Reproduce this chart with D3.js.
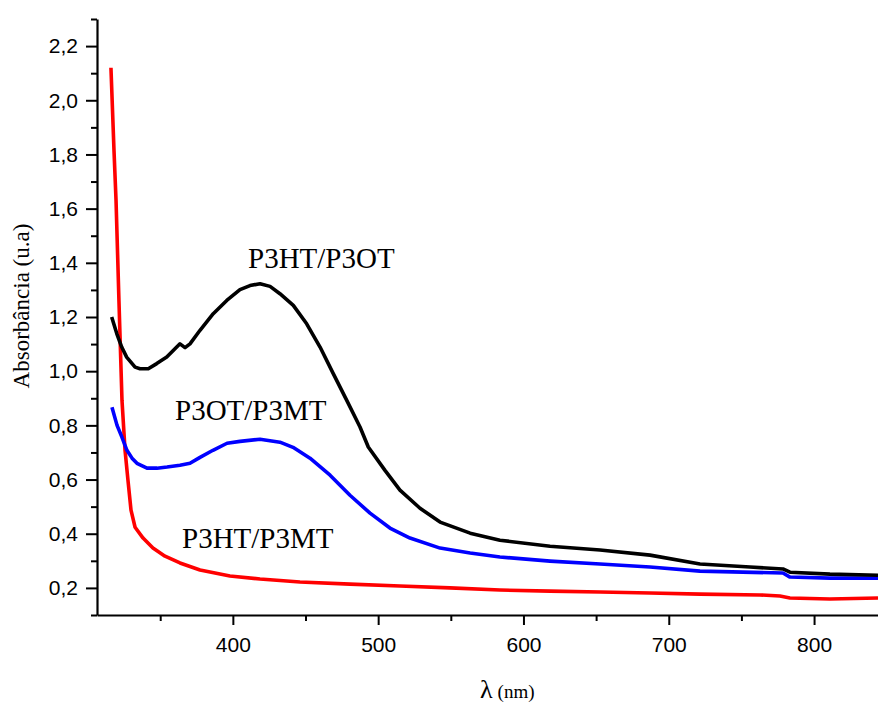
<!DOCTYPE html>
<html>
<head>
<meta charset="utf-8">
<script src="https://cdn.jsdelivr.net/npm/d3@7/dist/d3.min.js"></script>
<style>
body { margin: 0; background: #fff; }
.tick text { font-family: "Liberation Sans", Arial, sans-serif; font-size: 21px; fill: #000; }
.curve-label { font-family: "Liberation Serif", "Times New Roman", serif; font-size: 29px; fill: #000; }
</style>
</head>
<body>
<svg id="chart" width="878" height="704"></svg>
<script>
// wavelength (nm), absorbance (u.a)
var redNm  = [316.1, 318.2, 319.6, 321.6, 323.7, 325.8, 327.8, 329.9, 332.7, 338.2, 345.0, 353.3, 363.6, 377.4, 398.0, 418.7, 446.2, 480.6, 515.0, 549.4, 583.8, 618.3, 652.7, 687.1, 721.5, 762.8, 776.5, 783.4, 810.9, 844.0];
var redAbs = [2.12, 1.814, 1.63, 1.261, 0.892, 0.708, 0.598, 0.487, 0.424, 0.384, 0.347, 0.317, 0.292, 0.266, 0.244, 0.233, 0.222, 0.214, 0.207, 0.200, 0.192, 0.188, 0.185, 0.181, 0.177, 0.174, 0.170, 0.163, 0.159, 0.163];

var blackNm  = [316.6, 320.1, 323.5, 326.9, 332.7, 336.1, 341.8, 347.6, 354.5, 363.6, 367.1, 370.5, 377.4, 386.5, 395.8, 404.9, 411.8, 418.7, 425.6, 432.4, 441.6, 450.8, 460.0, 469.1, 478.3, 487.5, 493.2, 504.7, 515.0, 528.8, 542.6, 563.3, 583.8, 618.3, 652.7, 687.1, 721.5, 755.9, 778.6, 783.4, 810.9, 844.0];
var blackAbs = [1.200, 1.139, 1.089, 1.052, 1.015, 1.009, 1.009, 1.028, 1.052, 1.101, 1.087, 1.101, 1.151, 1.212, 1.261, 1.301, 1.316, 1.323, 1.313, 1.286, 1.243, 1.175, 1.089, 0.991, 0.893, 0.794, 0.720, 0.634, 0.561, 0.494, 0.443, 0.402, 0.376, 0.354, 0.340, 0.321, 0.288, 0.277, 0.270, 0.258, 0.251, 0.247];

var blueNm  = [316.8, 320.3, 323.7, 327.1, 330.6, 334.0, 340.9, 347.8, 354.7, 363.6, 370.5, 377.4, 386.3, 396.0, 404.9, 418.7, 432.4, 441.4, 453.1, 466.9, 480.6, 494.4, 508.1, 521.9, 542.6, 563.3, 583.8, 618.3, 652.7, 687.1, 721.5, 778.6, 783.4, 810.9, 844.0];
var blueAbs = [0.867, 0.800, 0.756, 0.708, 0.679, 0.660, 0.642, 0.642, 0.646, 0.653, 0.660, 0.682, 0.708, 0.734, 0.741, 0.749, 0.738, 0.719, 0.679, 0.616, 0.542, 0.476, 0.421, 0.384, 0.347, 0.329, 0.314, 0.299, 0.288, 0.277, 0.262, 0.255, 0.240, 0.236, 0.236];

var yMajor = [0.2, 0.4, 0.6, 0.8, 1.0, 1.2, 1.4, 1.6, 1.8, 2.0, 2.2];
var yMinor = [0.1, 0.3, 0.5, 0.7, 0.9, 1.1, 1.3, 1.5, 1.7, 1.9, 2.1, 2.3];
var xMajor = [400, 500, 600, 700, 800];
var xMinor = [350, 450, 550, 650, 750];

var series = [
	{name: "P3HT/P3MT", color: "#ff0000", nm: redNm, abs: redAbs, lx: 182, ly: 548},
	{name: "P3OT/P3MT", color: "#0000ff", nm: blueNm, abs: blueAbs, lx: 175, ly: 420},
	{name: "P3HT/P3OT", color: "#000000", nm: blackNm, abs: blackAbs, lx: 248, ly: 268}
];

var svg = d3.select("#chart");
var x = d3.scaleLinear().domain([306.5, 844]).range([97, 878]);
var y = d3.scaleLinear().domain([0.1, 2.3]).range([615, 19]);

function commaFmt(d) { return d3.format(".1f")(d).replace(".", ","); }

// y axis
svg.append("g")
	.attr("transform", "translate(97,0)")
	.call(d3.axisLeft(y).tickValues(yMinor).tickSize(6).tickSizeOuter(0).tickFormat(""))
	.call(function(g) { g.select(".domain").remove(); });
var yAxis = svg.append("g")
	.attr("transform", "translate(97,0)")
	.call(d3.axisLeft(y).tickValues(yMajor).tickSize(11).tickSizeOuter(0).tickPadding(8).tickFormat(commaFmt));

// x axis
svg.append("g")
	.attr("transform", "translate(0,615)")
	.call(d3.axisBottom(x).tickValues(xMinor).tickSize(6).tickSizeOuter(0).tickFormat(""))
	.call(function(g) { g.select(".domain").remove(); });
var xAxis = svg.append("g")
	.attr("transform", "translate(0,615)")
	.call(d3.axisBottom(x).tickValues(xMajor).tickSize(10).tickSizeOuter(0).tickPadding(12));

svg.selectAll(".domain").attr("stroke", "#000").attr("stroke-width", 2.2);
svg.selectAll(".tick line").attr("stroke", "#000").attr("stroke-width", 2);

// curves
var line = d3.line()
	.x(function(d) { return x(d[0]); })
	.y(function(d) { return y(d[1]); });

svg.selectAll(".curve")
	.data(series)
	.enter()
	.append("path")
	.attr("class", "curve")
	.attr("fill", "none")
	.attr("stroke", function(d) { return d.color; })
	.attr("stroke-width", 3.6)
	.attr("stroke-linejoin", "round")
	.attr("d", function(d) {
		return line(d.nm.map(function(v, i) { return [v, d.abs[i]]; }));
	});

svg.selectAll(".curve-label")
	.data(series)
	.enter()
	.append("text")
	.attr("class", "curve-label")
	.attr("x", function(d) { return d.lx; })
	.attr("y", function(d) { return d.ly; })
	.text(function(d) { return d.name; });

// axis titles
var xt = svg.append("text")
	.attr("x", 480)
	.attr("y", 698)
	.style("font-family", "'Liberation Serif', 'Times New Roman', serif")
	.style("fill", "#000");
xt.append("tspan").style("font-size", "26px").text("λ");
xt.append("tspan").style("font-size", "19px").attr("dx", 5).text("(nm)");

svg.append("text")
	.attr("transform", "translate(29,306) rotate(-90)")
	.attr("text-anchor", "middle")
	.style("font-family", "'Liberation Serif', 'Times New Roman', serif")
	.style("font-size", "23px")
	.style("fill", "#000")
	.text("Absorbância (u.a)");
</script>
</body>
</html>
